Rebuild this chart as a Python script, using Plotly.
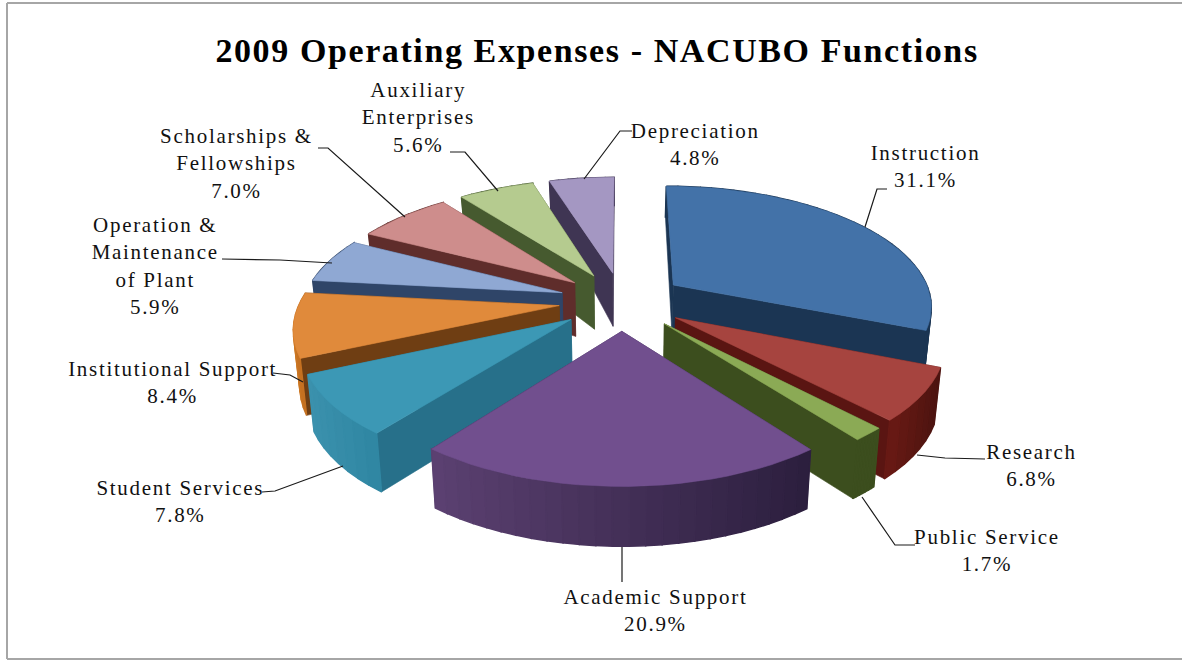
import numpy as np
import plotly.graph_objects as go

# ---------- data ----------
categories = ["Instruction", "Research", "Public Service", "Academic Support", "Student Services",
              "Institutional Support", "Operation &<br>Maintenance<br>of Plant", "Scholarships &<br>Fellowships",
              "Auxiliary<br>Enterprises", "Depreciation"]
values = [31.1, 6.8, 1.7, 20.9, 7.8, 8.4, 5.9, 7.0, 5.6, 4.8]
title_text = "2009 Operating Expenses - NACUBO Functions"

# ---------- styles ----------
top_colors = ["#4372A8", "#A6443F", "#8BAA55", "#714F8E", "#3C98B5", "#E08A3B", "#8FA8D3", "#CE8D8C", "#B5CB8F", "#A497C2"]
radial_colors = ["#1B3553", "#5A1512", "#3C4E1E", "#3D2B52", "#27708A", "#6F3E13", "#2F4568", "#5F2D2B", "#465A2F", "#3F3553"]
outer_left = ["#1B3553", "#6B1A15", "#3C4E1E", "#5C4172", "#3C92AE", "#D07A25", "#2F4568", "#5F2D2B", "#465A2F", "#3F3553"]
outer_right = ["#1B3553", "#4C1410", "#3C4E1E", "#2C1F3E", "#2F86A2", "#B8671C", "#2F4568", "#5F2D2B", "#465A2F", "#3F3553"]
label_x = [925, 1031, 987, 655, 180, 172, 155, 236, 418, 695]
label_y = [166, 465, 550, 610, 501, 382, 266, 163, 117, 144]
leader_x = [[887, 877, 865], [985, 945, 917], [915, 895, 862], [622, 622], [262, 275, 343],
            [273, 290, 303], [222, 280, 332], [318, 328, 405], [450, 465, 498], [632, 620, 584]]
leader_y = [[189, 189, 227], [459, 458, 455], [545, 545, 497], [547, 582], [492, 491, 466],
            [373, 375, 382], [259, 260, 263], [148, 148, 217], [152, 152, 191], [131, 131, 179]]

# ---------- projection of an exploded, tilted pie onto the page ----------
CX, CY, AX, BY, K, EXPL = 622.0, 301.0, 259.0, 119.4, 0.16, 0.244


def project(X, Y):
    p = 1.0 / (1.0 + K * Y)
    return CX + AX * X * p, CY - BY * Y * p


def wall(sx, sy, Y):
    d = np.interp(Y, [-1.3, -0.2, 0.25, 1.25], [60, 56, 53, 28])
    return sx - (sx - CX) * 0.02, sy + d


def hex2rgb(h):
    return np.array([int(h[i:i + 2], 16) for i in (1, 3, 5)], float)


def mix(a, b, t):
    c = hex2rgb(a) * (1 - t) + hex2rgb(b) * t
    return "rgb(%d,%d,%d)" % tuple(c)


fig = go.Figure()


def poly(xs, ys, color, width=0.6):
    fig.add_trace(go.Scatter(x=list(xs) + [xs[0]], y=list(ys) + [ys[0]], mode="lines", fill="toself",
                             fillcolor=color, line=dict(color=color, width=width), hoverinfo="skip",
                             showlegend=False))


total = sum(values)
edges = np.concatenate([[0], np.cumsum(values)]) / total * 2 * np.pi
mids = (edges[:-1] + edges[1:]) / 2
order = np.argsort(-np.cos(mids))

for i in order:
    a0, a1 = edges[i], edges[i + 1]
    ox, oy = EXPL * np.sin(mids[i]), EXPL * np.cos(mids[i])
    th = np.linspace(a0, a1, max(8, int((a1 - a0) * 20)))
    RX, RY = ox + np.sin(th), oy + np.cos(th)
    sx, sy = project(RX, RY)
    ax_, ay_ = project(np.array(ox), np.array(oy))
    bx, by = wall(sx, sy, RY)
    cx_, cy_ = wall(ax_, ay_, np.array(oy))

    faces = []
    # radial walls
    faces.append((oy + 0.5 * np.cos(a0), [ax_, sx[0], bx[0], cx_], [ay_, sy[0], by[0], cy_], radial_colors[i], 0.6))
    faces.append((oy + 0.5 * np.cos(a1), [ax_, sx[-1], bx[-1], cx_], [ay_, sy[-1], by[-1], cy_], radial_colors[i], 0.6))
    # rim wall
    lo, hi = sx.min(), sx.max()
    for j in range(len(th) - 1):
        t = 0.5 if hi == lo else ((sx[j] + sx[j + 1]) / 2 - lo) / (hi - lo)
        faces.append((RY[j], [sx[j], sx[j + 1], bx[j + 1], bx[j]], [sy[j], sy[j + 1], by[j + 1], by[j]],
                      mix(outer_left[i], outer_right[i], t), 1.5))
    faces.sort(key=lambda f: -f[0])
    for _, fx, fy, col, w in faces:
        poly(fx, fy, col, w)
    poly([float(ax_)] + list(sx), [float(ay_)] + list(sy), top_colors[i])

# leader lines
for lx, ly in zip(leader_x, leader_y):
    fig.add_trace(go.Scatter(x=lx, y=ly, mode="lines", line=dict(color="#1a1a1a", width=1.2),
                             hoverinfo="skip", showlegend=False))

# labels
font = "Liberation Serif, Times New Roman, serif"
for name, v, x, y in zip(categories, values, label_x, label_y):
    fig.add_annotation(x=x, y=y, text=f"{name}<br>{v:.1f}%", showarrow=False, xref="x", yref="y",
                       xanchor="center", yanchor="middle", align="center",
                       font=dict(family=font, size=21, color="#111111"))
fig.add_annotation(x=597, y=50, text=f"<b>{title_text}</b>", showarrow=False, xref="x", yref="y",
                   xanchor="center", yanchor="middle", font=dict(family=font, size=34, color="#000000"))

# frame of the chart area
line = dict(color="#A6A6A6", width=2)
fig.add_shape(type="line", x0=7, x1=7, y0=3, y1=659, line=line)
fig.add_shape(type="line", x0=7, x1=1182, y0=3, y1=3, line=line)
fig.add_shape(type="line", x0=7, x1=1182, y0=659, y1=659, line=line)

fig.update_layout(width=1182, height=663, margin=dict(l=0, r=0, t=0, b=0), paper_bgcolor="white",
                  plot_bgcolor="white", showlegend=False,
                  xaxis=dict(range=[0, 1182], visible=False, fixedrange=True),
                  yaxis=dict(range=[663, 0], visible=False, fixedrange=True))
# the reference's text is set wider than the installed Times-metric font
spacing = """
document.body.style.margin='0';document.body.style.overflow='hidden';
document.querySelectorAll('.annotation-text').forEach(function(t){
  t.style.letterSpacing = (t.textContent.indexOf('NACUBO') >= 0) ? '1.6px' : '1.7px';
});
"""
fig.write_html("out.html", config={"displayModeBar": False}, post_script=spacing)
